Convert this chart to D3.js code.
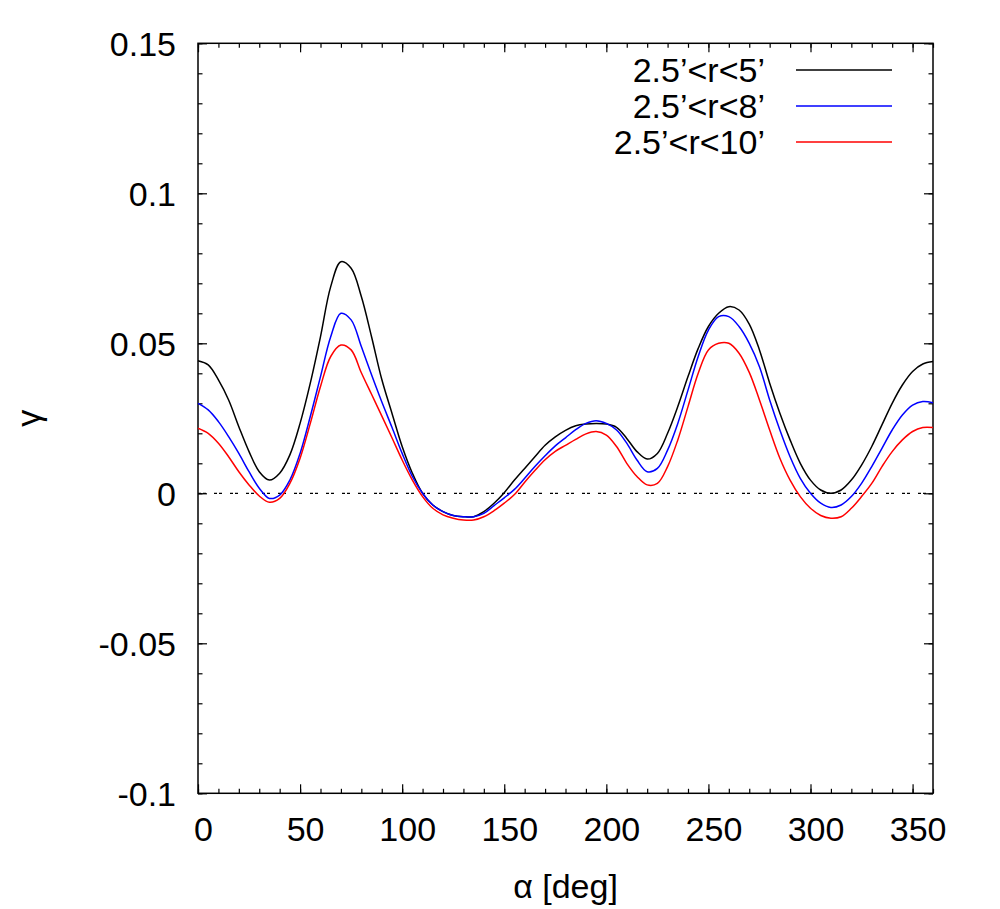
<!DOCTYPE html>
<html>
<head>
  <meta charset="utf-8">
  <script src="https://d3js.org/d3.v7.min.js"></script>
  <style>
    body { margin: 0; background: #fff; }
    text { font-family: "Liberation Sans", Arial, Helvetica, sans-serif; fill: #000; }
    .tick text { font-size: 34px; font-family: "Liberation Sans", Arial, Helvetica, sans-serif; }
    .axis-title { font-size: 34px; }
    .legend-label { font-size: 34px; text-anchor: end; }
    .series { fill: none; stroke-width: 1.5; stroke-linejoin: round; }
  </style>
</head>
<body>
  <svg width="1000" height="909"></svg>
  <script>
    // angle samples (deg)
    var alpha = [0, 5, 10, 15, 20, 25, 30, 35, 40, 45, 50, 55, 60, 65, 70, 75, 80, 85, 90, 95,
                 100, 105, 110, 115, 120, 125, 130, 135, 140, 145, 150, 155, 160, 165, 170, 175,
                 180, 185, 190, 195, 200, 205, 210, 215, 220, 225, 230, 235, 240, 245, 250, 255,
                 260, 265, 270, 275, 280, 285, 290, 295, 300, 305, 310, 315, 320, 325, 330, 335,
                 340, 345, 350, 355, 360];

    var gammaR5 = [0.0442, 0.0428, 0.0378, 0.0311, 0.0222, 0.0139, 0.0072, 0.0044, 0.0067, 0.0128,
                   0.0233, 0.0367, 0.0522, 0.0689, 0.0772, 0.0750, 0.0656, 0.0522, 0.0380, 0.0267,
                   0.0156, 0.0067, 0.0000, -0.0039, -0.0061, -0.0074, -0.0078, -0.0078, -0.0061, -0.0033,
                   0.0002, 0.0044, 0.0083, 0.0122, 0.0160, 0.0188, 0.0210, 0.0225, 0.0231, 0.0233,
                   0.0231, 0.0220, 0.0183, 0.0139, 0.0114, 0.0133, 0.0200, 0.0289, 0.0389, 0.0483,
                   0.0556, 0.0600, 0.0622, 0.0611, 0.0564, 0.0478, 0.0367, 0.0267, 0.0178, 0.0100,
                   0.0044, 0.0011, 0.0000, 0.0011, 0.0044, 0.0094, 0.0156, 0.0228, 0.0300, 0.0361,
                   0.0406, 0.0431, 0.0439];

    var gammaR8 = [0.0300, 0.0278, 0.0239, 0.0189, 0.0133, 0.0072, 0.0017, -0.0017, -0.0006, 0.0044,
                   0.0133, 0.0256, 0.0389, 0.0522, 0.0600, 0.0578, 0.0489, 0.0395, 0.0305, 0.0220,
                   0.0133, 0.0056, 0.0000, -0.0039, -0.0061, -0.0074, -0.0078, -0.0078, -0.0067, -0.0041,
                   -0.0015, 0.0013, 0.0050, 0.0089, 0.0125, 0.0158, 0.0185, 0.0212, 0.0233, 0.0242,
                   0.0233, 0.0211, 0.0167, 0.0111, 0.0072, 0.0083, 0.0144, 0.0233, 0.0344, 0.0456,
                   0.0544, 0.0589, 0.0589, 0.0556, 0.0500, 0.0422, 0.0311, 0.0211, 0.0122, 0.0050,
                   0.0000, -0.0033, -0.0047, -0.0039, -0.0011, 0.0033, 0.0089, 0.0150, 0.0211, 0.0261,
                   0.0294, 0.0306, 0.0302];

    var gammaR10 = [0.0217, 0.0200, 0.0167, 0.0122, 0.0072, 0.0028, -0.0009, -0.0030, -0.0017, 0.0033,
                    0.0117, 0.0233, 0.0356, 0.0456, 0.0494, 0.0478, 0.0402, 0.0330, 0.0258, 0.0185,
                    0.0111, 0.0044, -0.0011, -0.0050, -0.0072, -0.0083, -0.0089, -0.0089, -0.0078, -0.0058,
                    -0.0033, -0.0004, 0.0037, 0.0076, 0.0112, 0.0140, 0.0160, 0.0180, 0.0198, 0.0206,
                    0.0194, 0.0156, 0.0100, 0.0056, 0.0028, 0.0033, 0.0089, 0.0178, 0.0289, 0.0400,
                    0.0478, 0.0500, 0.0500, 0.0467, 0.0403, 0.0311, 0.0211, 0.0117, 0.0044, -0.0011,
                    -0.0050, -0.0074, -0.0083, -0.0078, -0.0050, -0.0011, 0.0033, 0.0089, 0.0139, 0.0178,
                    0.0206, 0.0219, 0.0219];

    var seriesNames = ["2.5\u2019<r<5\u2019", "2.5\u2019<r<8\u2019", "2.5\u2019<r<10\u2019"];
    var seriesColors = ["#000000", "#0000ff", "#ff0000"];
    var seriesValues = [gammaR5, gammaR8, gammaR10];

    var xMajorTicks = [0, 50, 100, 150, 200, 250, 300, 350];
    var xMinorTicks = [0, 10, 20, 30, 40, 50, 60, 70, 80, 90, 100, 110, 120, 130, 140, 150, 160, 170,
                       180, 190, 200, 210, 220, 230, 240, 250, 260, 270, 280, 290, 300, 310, 320, 330,
                       340, 350, 360];
    var yMajorTicks = [-0.1, -0.05, 0, 0.05, 0.1, 0.15];
    var yMinorTicks = [-0.1, -0.09, -0.08, -0.07, -0.06, -0.05, -0.04, -0.03, -0.02, -0.01, 0,
                       0.01, 0.02, 0.03, 0.04, 0.05, 0.06, 0.07, 0.08, 0.09, 0.1, 0.11, 0.12, 0.13, 0.14, 0.15];

    var svg = d3.select("svg"),
        plotLeft = 198, plotRight = 933, plotTop = 43.3, plotBottom = 793.3;

    var x = d3.scaleLinear().domain([0, 360]).range([plotLeft, plotRight]);
    var y = d3.scaleLinear().domain([-0.1, 0.15]).range([plotBottom, plotTop]);

    var majorLen = 9, minorLen = 4.5;
    var fmtY = d => String(+d.toFixed(2));

    function styleAxis(g) {
      g.select(".domain").remove();
      g.selectAll(".tick line").attr("stroke", "#000").attr("stroke-width", 1.2);
    }

    // minor ticks on all four sides
    svg.append("g").attr("transform", "translate(0," + plotBottom + ")")
      .call(d3.axisBottom(x).tickValues(xMinorTicks).tickSize(-minorLen).tickFormat(""))
      .call(styleAxis);
    svg.append("g").attr("transform", "translate(0," + plotTop + ")")
      .call(d3.axisTop(x).tickValues(xMinorTicks).tickSize(-minorLen).tickFormat(""))
      .call(styleAxis);
    svg.append("g").attr("transform", "translate(" + plotLeft + ",0)")
      .call(d3.axisLeft(y).tickValues(yMinorTicks).tickSize(-minorLen).tickFormat(""))
      .call(styleAxis);
    svg.append("g").attr("transform", "translate(" + plotRight + ",0)")
      .call(d3.axisRight(y).tickValues(yMinorTicks).tickSize(-minorLen).tickFormat(""))
      .call(styleAxis);

    // major ticks with labels
    var xAxis = svg.append("g").attr("transform", "translate(0," + plotBottom + ")")
      .call(d3.axisBottom(x).tickValues(xMajorTicks).tickSize(-majorLen).tickPadding(24).tickFormat(d => String(d)))
      .call(styleAxis);
    xAxis.selectAll(".tick text").attr("dx", 5).attr("font-size", 34);

    svg.append("g").attr("transform", "translate(0," + plotTop + ")")
      .call(d3.axisTop(x).tickValues(xMajorTicks).tickSize(-majorLen).tickFormat(""))
      .call(styleAxis);

    var yAxis = svg.append("g").attr("transform", "translate(" + plotLeft + ",0)")
      .call(d3.axisLeft(y).tickValues(yMajorTicks).tickSize(-majorLen).tickPadding(22).tickFormat(fmtY))
      .call(styleAxis);
    yAxis.selectAll(".tick text").attr("dy", "0.36em").attr("font-size", 34);

    svg.append("g").attr("transform", "translate(" + plotRight + ",0)")
      .call(d3.axisRight(y).tickValues(yMajorTicks).tickSize(-majorLen).tickFormat(""))
      .call(styleAxis);

    // frame
    svg.append("rect")
      .attr("x", plotLeft).attr("y", plotTop)
      .attr("width", plotRight - plotLeft).attr("height", plotBottom - plotTop)
      .attr("fill", "none").attr("stroke", "#000").attr("stroke-width", 1.5);

    // zero line
    svg.append("line")
      .attr("x1", x(0)).attr("x2", x(360))
      .attr("y1", y(0)).attr("y2", y(0))
      .attr("stroke", "#000").attr("stroke-width", 1.2)
      .attr("stroke-dasharray", "3,2,3,8");

    var line = d3.line()
      .x((d, i) => x(alpha[i]))
      .y(d => y(d))
      .curve(d3.curveCatmullRom.alpha(0.5));

    seriesValues.forEach(function(vals, k) {
      svg.append("path")
        .attr("class", "series")
        .attr("d", line(vals))
        .attr("stroke", seriesColors[k]);
    });

    // legend
    seriesNames.forEach(function(name, k) {
      var ly = 70 + k * 36;
      svg.append("text")
        .attr("class", "legend-label")
        .attr("x", 765).attr("y", ly + 12)
        .text(name);
      svg.append("line")
        .attr("x1", 796).attr("x2", 892)
        .attr("y1", ly).attr("y2", ly)
        .attr("stroke", seriesColors[k]).attr("stroke-width", 1.5);
    });

    // axis titles
    svg.append("text")
      .attr("class", "axis-title")
      .attr("x", (plotLeft + plotRight) / 2).attr("y", 898)
      .attr("text-anchor", "middle")
      .text("\u03b1 [deg]");

    svg.append("text")
      .attr("class", "axis-title")
      .attr("transform", "translate(40," + (plotTop + plotBottom) / 2 + ") rotate(-90)")
      .attr("text-anchor", "middle")
      .text("\u03b3");
  </script>
</body>
</html>
